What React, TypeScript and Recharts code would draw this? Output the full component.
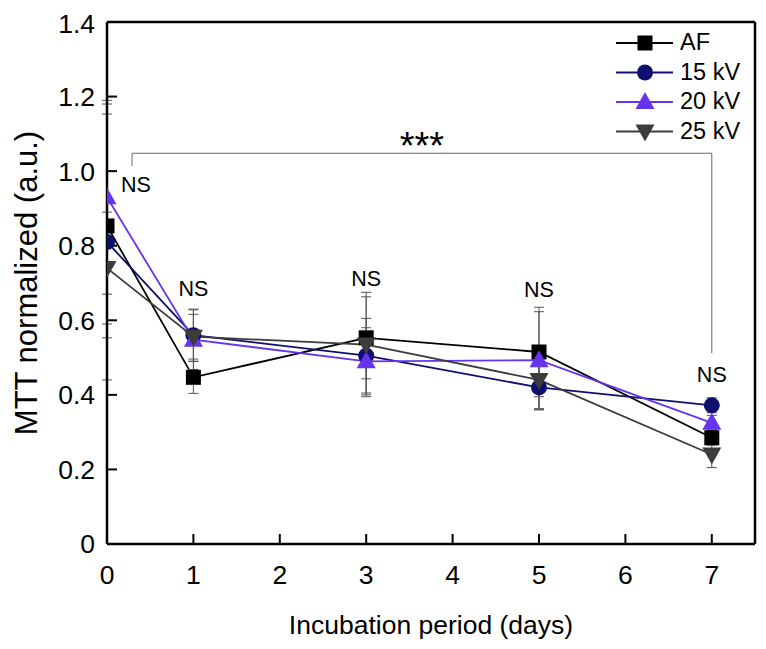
import React from 'react';
import {
  ComposedChart, Line, XAxis, YAxis, ErrorBar, ReferenceLine, ReferenceDot, Label,
} from 'recharts';

const days = [0, 1, 3, 5, 7];

const afValues = [0.853, 0.447, 0.553, 0.515, 0.285];
const afErrors = [0.3, 0.043, 0.11, 0.12, 0.02];
const kv15Values = [0.81, 0.56, 0.505, 0.42, 0.372];
const kv15Errors = [0.37, 0.07, 0.1, 0.06, 0.02];
const kv20Values = [0.93, 0.548, 0.49, 0.493, 0.325];
const kv20Errors = [0.26, 0.08, 0.09, 0.13, 0.02];
const kv25Values = [0.74, 0.556, 0.535, 0.44, 0.24];
const kv25Errors = [0.15, 0.06, 0.14, 0.08, 0.035];

const xTicks = [0, 1, 2, 3, 4, 5, 6, 7];
const yTicks = [0, 0.2, 0.4, 0.6, 0.8, 1.0, 1.2, 1.4];

// NS labels (x in days, y = text baseline in data units)
const nsLabels = [
  { x: 0.335, y: 0.944 },
  { x: 1, y: 0.665 },
  { x: 3, y: 0.692 },
  { x: 5, y: 0.662 },
  { x: 7, y: 0.434 },
];

// significance bracket
const bracketLeft = 0.29;
const bracketRight = 7;
const bracketTop = 1.048;
const bracketLeftEnd = 1.014;
const bracketRightEnd = 0.512;

const data = days.map((d, i) => ({
  day: d,
  af: afValues[i], afErr: afErrors[i],
  kv15: kv15Values[i], kv15Err: kv15Errors[i],
  kv20: kv20Values[i], kv20Err: kv20Errors[i],
  kv25: kv25Values[i], kv25Err: kv25Errors[i],
}));

const FONT = '"Liberation Sans", Arial, sans-serif';

type Shape = 'square' | 'circle' | 'up' | 'down';

const series: { key: string; name: string; color: string; shape: Shape }[] = [
  { key: 'af', name: 'AF', color: '#000000', shape: 'square' },
  { key: 'kv15', name: '15 kV', color: '#0f0f6e', shape: 'circle' },
  { key: 'kv20', name: '20 kV', color: '#6633ee', shape: 'up' },
  { key: 'kv25', name: '25 kV', color: '#3c3c3c', shape: 'down' },
];

const Marker = ({ shape, cx, cy, color }: { shape: Shape; cx: number; cy: number; color: string }) => {
  if (shape === 'square') return <rect x={cx - 7.5} y={cy - 7.5} width={15} height={15} fill={color} />;
  if (shape === 'circle') return <circle cx={cx} cy={cy} r={8} fill={color} />;
  if (shape === 'up')
    return <polygon points={`${cx},${cy - 10} ${cx - 9.5},${cy + 7} ${cx + 9.5},${cy + 7}`} fill={color} />;
  return <polygon points={`${cx - 9.5},${cy - 7} ${cx + 9.5},${cy - 7} ${cx},${cy + 10}`} fill={color} />;
};

const LegendBox = () => (
  <svg width={150} height={150} style={{ position: 'absolute', left: 606, top: 15, overflow: 'visible' }}>
    {series.map((s, i) => {
      const y = 20 + i * 29.5;
      return (
        <g key={s.key}>
          <line x1={2} x2={59} y1={y} y2={y} stroke={s.color} strokeWidth={1.8} />
          <Marker shape={s.shape} cx={31} cy={y} color={s.color} />
          <text x={66} y={y + 7} fontSize={23.5} fontFamily={FONT} fill="#000">{s.name}</text>
        </g>
      );
    })}
  </svg>
);

const textLabel = (value: string, size: number, dy = 0) => (props: any) => {
  const { viewBox } = props;
  return (
    <text x={viewBox.x} y={viewBox.y + dy} textAnchor="middle" fontSize={size} fontFamily={FONT} fill="#000">
      {value}
    </text>
  );
};

export default function App() {
  return (
    <div style={{ position: 'relative', width: 758, height: 641, fontFamily: FONT }}>
      <ComposedChart width={758} height={641} data={data} margin={{ top: 14, right: 11, left: 0, bottom: 0 }}>
        <XAxis
          dataKey="day"
          type="number"
          domain={[0, 7.5]}
          ticks={xTicks}
          allowDataOverflow
          height={105}
          axisLine={{ stroke: '#000', strokeWidth: 2.5 }}
          tickLine={{ stroke: '#000', strokeWidth: 2 }}
          tickSize={-10}
          tickMargin={31}
          tick={{ fontSize: 26.5, fill: '#000', fontFamily: FONT }}
        >
          <Label
            content={(p: any) => {
              const vb = p.viewBox;
              return (
                <text x={vb.x + vb.width / 2} y={626} textAnchor="middle" fontSize={26.5} fontFamily={FONT} fill="#000">
                  Incubation period (days)
                </text>
              );
            }}
          />
        </XAxis>
        <YAxis
          type="number"
          domain={[0, 1.4]}
          ticks={yTicks}
          width={99}
          axisLine={{ stroke: '#000', strokeWidth: 2.5 }}
          tickLine={{ stroke: '#000', strokeWidth: 2 }}
          tickSize={-10}
          tickMargin={22}
          tickFormatter={(v: number) => (v === 0 ? '0' : v.toFixed(1))}
          tick={{ fontSize: 26.5, fill: '#000', fontFamily: FONT }}
        >
          <Label
            content={(p: any) => {
              const vb = p.viewBox;
              const cy = vb.y + vb.height / 2;
              return (
                <text
                  x={29}
                  y={cy}
                  transform={`rotate(-90, 29, ${cy})`}
                  textAnchor="middle"
                  fontSize={31}
                  fontFamily={FONT}
                  fill="#000"
                >
                  MTT normalized (a.u.)
                </text>
              );
            }}
          />
        </YAxis>

        <ReferenceLine y={1.4} stroke="#000" strokeWidth={2.5} ifOverflow="extendDomain" />
        <ReferenceLine x={7.5} stroke="#000" strokeWidth={2.5} ifOverflow="extendDomain" />

        <ReferenceLine
          segment={[{ x: bracketLeft, y: bracketLeftEnd }, { x: bracketLeft, y: bracketTop }]}
          stroke="#666"
          strokeWidth={1}
        />
        <ReferenceLine
          segment={[{ x: bracketLeft, y: bracketTop }, { x: bracketRight, y: bracketTop }]}
          stroke="#666"
          strokeWidth={1}
        />
        <ReferenceLine
          segment={[{ x: bracketRight, y: bracketTop }, { x: bracketRight, y: bracketRightEnd }]}
          stroke="#666"
          strokeWidth={1}
        />
        <ReferenceDot
          x={(bracketLeft + bracketRight) / 2}
          y={bracketTop}
          r={0}
          fill="none"
          stroke="none"
          label={textLabel('***', 38, 6)}
        />
        {nsLabels.map((n, i) => (
          <ReferenceDot key={i} x={n.x} y={n.y} r={0} fill="none" stroke="none" label={textLabel('NS', 21.5)} />
        ))}

        {series.map((s) => (
          <Line
            key={s.key}
            dataKey={s.key}
            name={s.name}
            stroke={s.color}
            strokeWidth={1.8}
            isAnimationActive={false}
            dot={(p: any) => <Marker key={`${s.key}-${p.index}`} shape={s.shape} cx={p.cx} cy={p.cy} color={s.color} />}
            activeDot={false}
          >
            <ErrorBar dataKey={`${s.key}Err`} direction="y" width={5} stroke="#555" strokeWidth={1} />
          </Line>
        ))}
      </ComposedChart>
      <LegendBox />
    </div>
  );
}
